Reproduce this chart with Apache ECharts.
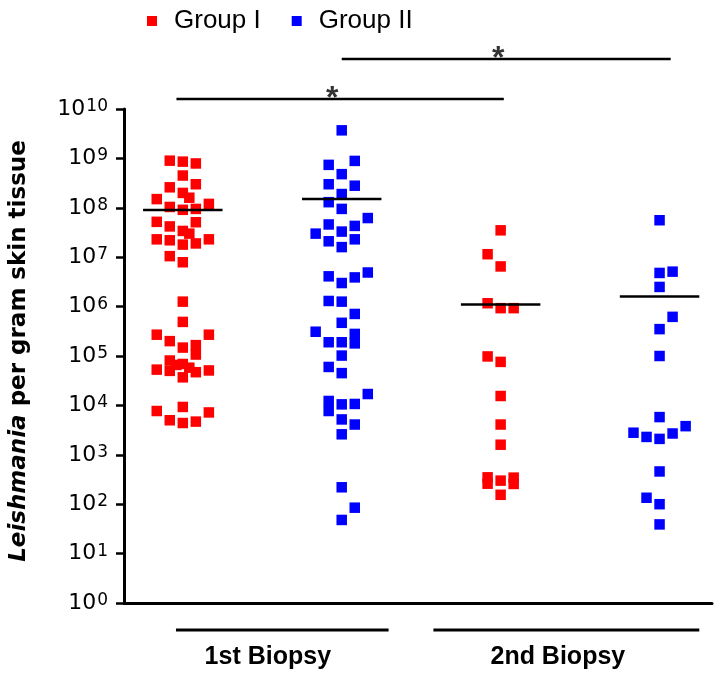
<!DOCTYPE html>
<html><head><meta charset="utf-8">
<script src="https://cdn.jsdelivr.net/npm/echarts@6/dist/echarts.min.js"></script>
<style>html,body{margin:0;padding:0;background:#fff}#c{width:727px;height:676px}</style>
</head><body><div id="c"></div>
<script>
// ---------- data ----------
const groupNames = ['Group I', 'Group II'];
const biopsyLabels = ['1st Biopsy', '2nd Biopsy'];
const yAxisTitle = ['Leishmania', 'per gram skin tissue'];
const significanceMark = '*';
const yTickExponents = [0, 1, 2, 3, 4, 5, 6, 7, 8, 9, 10];

// Group I, 1st biopsy
const g1FirstValues = [9.0e8, 8.6e8, 7.9e8, 4.5e8, 2.6e8, 3.0e8, 2.0e8, 1.6e8, 1.5e8, 1.2e8, 1.04e8, 9.1e7, 9.5e7,
  5.2e7, 5.1e7, 4.2e7, 3.4e7, 3.0e7, 2.3e7, 2.2e7, 1.8e7, 1.9e7, 2.3e7, 1.05e7, 7.9e6,
  1.26e6, 4.9e5, 2.7e5, 2.7e5, 2.0e5, 1.48e5, 1.66e5, 1.07e5, 8.1e4, 6.9e4, 5.8e4, 6.6e4, 5.3e4, 5.0e4, 4.7e4, 5.1e4, 3.7e4,
  9.3e3, 7.7e3, 7.2e3, 5.0e3, 4.4e3, 4.7e3];
const g1FirstJitter = [-1, 0, 1, 0, -1, 1, 0, 0.5, -2, 2, -1, 0, 1,
  -2, 1, -1, 0, 0.5, -2, -1, 0, 1, 2, -1, 0,
  0, 0, -2, 2, -1, 0, 1, 1, -1, 0, 0.5, -0.5, -2, -1, 1, 2, 0,
  0, -2, 2, -1, 0, 1];

// Group II, 1st biopsy
const g2FirstValues = [3.7e9, 7.4e8, 8.9e8, 4.8e8, 3.0e8, 2.8e8, 1.9e8, 1.3e8, 9.5e7, 6.2e7, 4.6e7, 4.3e7, 3.0e7, 3.3e7,
  2.1e7, 2.3e7, 1.6e7, 4.1e6, 3.0e6, 3.9e6, 4.9e6, 1.3e6, 1.26e6, 7.1e5, 4.7e5, 3.1e5, 1.9e5, 1.9e5, 2.8e5, 1.8e5,
  1.02e5, 6.0e4, 4.5e4, 1.7e4, 1.23e4, 7.7e3, 1.05e4, 1.07e4, 5.2e3, 4.1e3, 2.6e3, 220, 85, 48];
const g2FirstJitter = [0, -1, 1, 0, -1, 1, 0, -1, 0, 2, -1, 1, -2, 0,
  -1, 1, 0, -1, 0, 1, 2, -1, 0, 1, 0, -2, -1, 0, 1, 1,
  0, -1, 0, 2, -1, -1, 0, 1, 0, 1, 0, 0, 1, 0];

// Group I, 2nd biopsy
const g1SecondValues = [3.5e7, 1.15e7, 6.5e6, 1.17e6, 9.3e5, 9.3e5, 9.8e4, 7.6e4, 1.55e4, 4.1e3, 1.6e3, 350, 260, 300, 345, 257, 155];
const g1SecondJitter = [0, -1, 0, -1, 0, 1, -1, 0, 0, 0, 0, -1, -1, 0, 1, 1, 0];

// Group II, 2nd biopsy
const g2SecondValues = [5.6e7, 4.8e6, 5.1e6, 2.5e6, 6.2e5, 3.5e5, 1.0e5, 5.8e3, 3.8e3, 2.8e3, 2.3e3, 2.1e3, 2.7e3, 460, 135, 100, 39];
const g2SecondJitter = [0, 0, 1, 0, 1, 0, 0, 0, 2, -2, -1, 0, 1, 0, -1, 0, 0];

// central line of each column (Group I 1st, Group II 1st, Group I 2nd, Group II 2nd)
const medians = [9e7, 1.5e8, 1.1e6, 1.6e6];
const columnPositions = [1, 2, 3, 4];

// ---------- build ----------
const JIT = 0.082;
const HALF = 0.25;
const RED = '#ff0000', BLUE = '#0000ff';
function pts(values, jitter, c) { return values.map((v, i) => [c + jitter[i] * JIT, v]); }

const sets = [
  { name: groupNames[0], color: RED, values: g1FirstValues, jitter: g1FirstJitter },
  { name: groupNames[1], color: BLUE, values: g2FirstValues, jitter: g2FirstJitter },
  { name: groupNames[0], color: RED, values: g1SecondValues, jitter: g1SecondJitter },
  { name: groupNames[1], color: BLUE, values: g2SecondValues, jitter: g2SecondJitter }
];

const series = [];
sets.forEach((s, k) => {
  series.push({
    type: 'scatter', name: s.name, symbol: 'rect', symbolSize: 10.5,
    itemStyle: { color: s.color, opacity: 1 },
    data: pts(s.values, s.jitter, columnPositions[k]), z: 2
  });
});
medians.forEach((m, k) => {
  series.push({
    type: 'line', name: 'median' + k, symbol: 'none', silent: true, z: 5,
    lineStyle: { color: '#000', width: 2.5 },
    data: [[columnPositions[k] - HALF, m], [columnPositions[k] + HALF, m]]
  });
});
// significance bars (above the plot)
const sigBars = [
  { from: 0.96, to: 3.02, level: 1.6e10 },
  { from: 2.0, to: 4.07, level: 1.03e11 }
];
sigBars.forEach((b, k) => {
  series.push({
    type: 'line', name: 'sig' + k, symbol: 'none', silent: true, clip: false,
    lineStyle: { color: '#000', width: 2.5 },
    data: [[b.from, b.level], [b.to, b.level]]
  });
  series.push({
    type: 'scatter', name: 'star' + k, symbolSize: 1, silent: true, clip: false,
    itemStyle: { color: 'transparent' },
    label: { show: true, position: 'top', distance: -17, formatter: significanceMark,
      fontSize: 32, fontWeight: 'bold', fontFamily: 'Liberation Sans', color: '#000' },
    data: [[(b.from + b.to) / 2 - 0.05, b.level]]
  });
});
// bottom brackets
const brackets = [{ from: 0.957, to: 2.295 }, { from: 2.577, to: 4.25 }];
brackets.forEach((b, k) => {
  series.push({
    type: 'line', name: 'bracket' + k, symbol: 'none', silent: true, clip: false,
    lineStyle: { color: '#000', width: 3 },
    data: [[b.from, 0.284], [b.to, 0.284]]
  });
});
const labelPositions = [1.535, 3.36];
const yTickValues = yTickExponents.map(e => Math.pow(10, e));

const chart = echarts.init(document.getElementById('c'), null, { renderer: 'canvas' });
chart.setOption({
  animation: false,
  backgroundColor: '#fff',
  legend: {
    data: groupNames, left: 142, top: 3, icon: 'rect', itemWidth: 10, itemHeight: 10, itemGap: 31,
    formatter: n => '{p|}' + n,
    textStyle: { fontSize: 26, fontFamily: 'Liberation Sans', color: '#000', rich: { p: { width: 12 } } }
  },
  grid: { left: 123, top: 109, right: 15, bottom: 73 },
  xAxis: {
    type: 'value', min: 0.63, max: 4.33,
    axisLine: { show: true, lineStyle: { color: '#000', width: 3 } },
    axisTick: { show: false }, splitLine: { show: false },
    axisLabel: {
      show: true, customValues: labelPositions, margin: 42,
      formatter: v => (v < 2.5 ? biopsyLabels[0] : biopsyLabels[1]),
      fontSize: 25, fontWeight: 'bold', fontFamily: 'Liberation Sans', color: '#000'
    }
  },
  yAxis: {
    type: 'log', logBase: 10, min: 1, max: 1e10,
    axisLine: { show: true, lineStyle: { color: '#000', width: 3 } },
    axisTick: { show: true, length: 8, customValues: yTickValues, lineStyle: { color: '#000', width: 2.5 } },
    splitLine: { show: false },
    axisLabel: {
      margin: 16, customValues: yTickValues,
      formatter: v => '{b|10}{s|' + Math.round(Math.log10(v)) + '}',
      rich: {
        b: { fontSize: 22, fontFamily: 'DejaVu Sans', color: '#000' },
        s: { fontSize: 17, fontFamily: 'DejaVu Sans', color: '#000', verticalAlign: 'top', padding: [0, 0, 0, 1] }
      }
    },
    name: '{i|' + yAxisTitle[0] + '} {n|' + yAxisTitle[1] + '}',
    nameLocation: 'middle', nameGap: 93, nameRotate: 90,
    nameTextStyle: {
      fontSize: 23, fontWeight: 'bold', fontFamily: 'DejaVu Sans', color: '#000', padding: [0, 0, 0, 10],
      rich: {
        i: { fontSize: 23, fontWeight: 'bold', fontStyle: 'italic', fontFamily: 'DejaVu Sans', color: '#000' },
        n: { fontSize: 23, fontWeight: 'bold', fontFamily: 'DejaVu Sans', color: '#000' }
      }
    }
  },
  series: series
});
</script></body></html>
